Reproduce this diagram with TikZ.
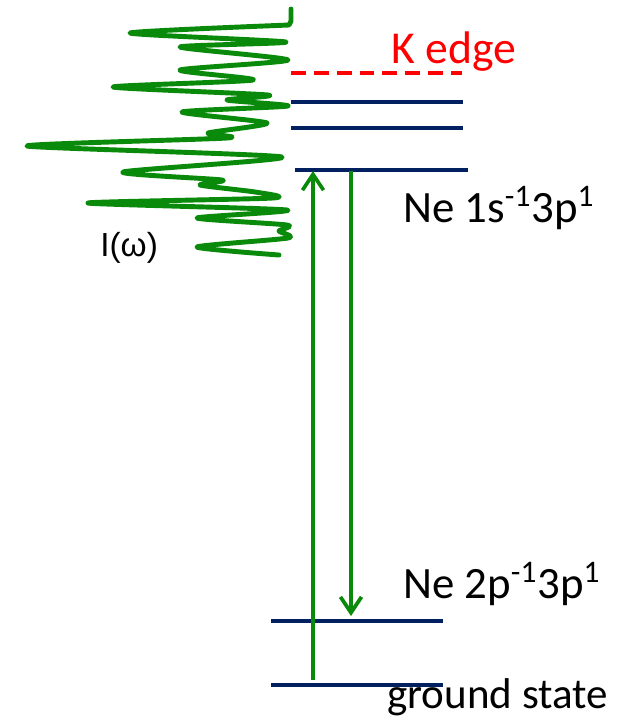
\documentclass[tikz,border=0pt]{standalone}
\usepackage{fontspec}
\setmainfont{Carlito}
\newfontfamily\arialfont{Liberation Sans}
\usetikzlibrary{arrows.meta,calc}
\definecolor{levelnavy}{HTML}{002060}
\definecolor{specgreen}{HTML}{0A8A0A}
\definecolor{edgered}{HTML}{FF0000}
\tikzset{
  level/.style={levelnavy,line width=2.3pt},
  trans/.style={specgreen,line width=2.1pt,-{Straight Barb[length=9pt,width=12pt,line width=2.1pt]}},
  lbl/.style={anchor=base west,inner sep=0pt,font=\fontsize{25.5}{30}\selectfont}
}

\begin{document}
\begin{tikzpicture}[x=0.02cm,y=-0.02cm]
  \useasboundingbox (0,0) rectangle (643,725);
  % levels
  \coordinate (KL) at (291,73);  \coordinate (KR) at (462,73);
  \coordinate (R1L) at (291,102); \coordinate (R1R) at (463,102);
  \coordinate (R2L) at (291,128); \coordinate (R2R) at (463,128);
  \coordinate (CL) at (295,170); \coordinate (CR) at (468,170);
  \coordinate (VL) at (271,621); \coordinate (VR) at (443,621);
  \coordinate (GL) at (271,685); \coordinate (GR) at (443,685);
  \draw[edgered,line width=2.3pt,dash pattern=on 8.5pt off 4.5pt] (KL) -- (KR);
  \draw[level] (R1L) -- (R1R);
  \draw[level] (R2L) -- (R2R);
  \draw[level] (CL) -- (CR);
  \draw[level] (VL) -- (VR);
  \draw[level] (GL) -- (GR);
  % absorption and emission
  \coordinate (up0) at (313,680); \coordinate (up1) at (313,171);
  \coordinate (dn0) at (351,171); \coordinate (dn1) at (351,616);
  \draw[trans] (up0) -- (up1);
  \draw[trans] (dn0) -- (dn1);
  % spectrum
  \draw[specgreen,line width=2.8pt,line cap=round,line join=round]
    (291,9) -- (291,21) -- plot[smooth,tension=0.4] coordinates {
      (289,25) (130,33) (286,42) (180,47) (288,60) (180,70)
      (253,80) (113,87) (268,95) (227,100) (288,106) (182,112) (267,123)
      (208,133) (227,138) (27,146) (282,157) (123,172) (222,180) (200,185)
      (255,192) (273,198) (88,203) (287,210) (197,218) (287,225) (279,231)
      (288,238) (197,247) (279,255)};
  % labels
  \node[lbl,text=edgered,font=\fontsize{26}{30}\selectfont] (kedge) at (391,63) {K edge};
  \node[lbl] (core) at (403,222) {Ne 1s\textsuperscript{-1}3p\textsuperscript{1}};
  \node[lbl] (valence) at (403,598) {Ne 2p\textsuperscript{-1}3p\textsuperscript{1}};
  \node[lbl,font=\fontsize{24.5}{30}\selectfont] (ground) at (387,708) {ground state};
  \node[anchor=base west,inner sep=0pt,font=\arialfont\fontsize{19}{23}\selectfont] (intensity) at (100,256) {I(ω)};
\end{tikzpicture}
\end{document}
